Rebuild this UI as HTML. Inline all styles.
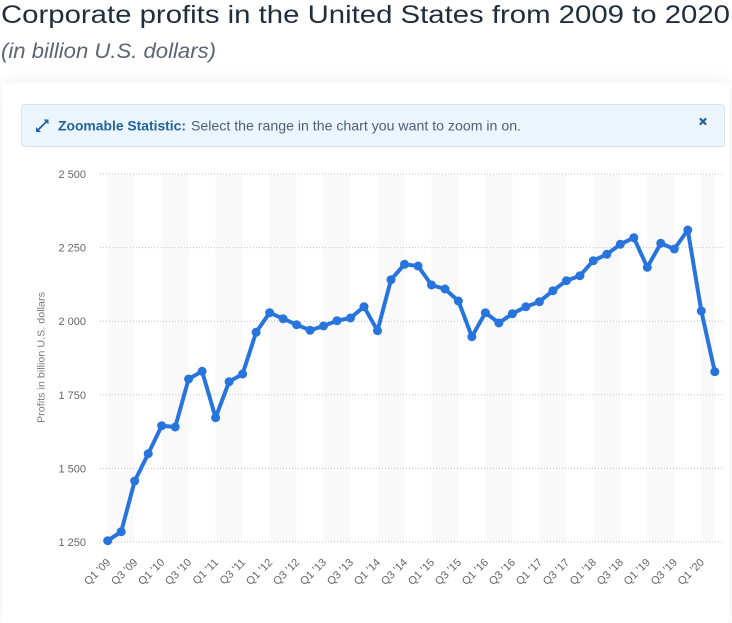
<!DOCTYPE html>
<html>
<head>
<meta charset="utf-8">
<style>
  html,body{margin:0;padding:0;background:#fff;width:732px;height:593px;overflow:hidden;}
  .card{position:absolute;left:2px;top:83px;width:727px;height:540px;background:#fff;box-shadow:0 0 18px rgba(0,0,0,0.07);border-radius:3px;}
  svg{position:absolute;left:0;top:0;}
  text{font-family:"Liberation Sans", sans-serif;}
</style>
</head>
<body>
<div class="card"></div>
<svg width="732" height="593" viewBox="0 0 732 593" xmlns="http://www.w3.org/2000/svg">
  <!-- Title -->
  <text x="1" y="23" font-size="25" fill="#1f2d3d" textLength="729" lengthAdjust="spacingAndGlyphs">Corporate profits in the United States from 2009 to 2020</text>
  <text x="1" y="58" font-size="21" font-style="italic" fill="#5a6674" textLength="215" lengthAdjust="spacingAndGlyphs">(in billion U.S. dollars)</text>

  <!-- Info box -->
  <rect x="21.5" y="104.5" width="703" height="42" rx="3" fill="#edf5fc" stroke="#d5e4f0"/>
  <g stroke="#1e64a0" stroke-width="1.8" fill="#1e64a0">
    <line x1="38.5" y1="129.5" x2="46" y2="122"/>
    <polygon points="36,132 36,127 41,132" stroke="none"/>
    <polygon points="48.5,119.5 48.5,124.5 43.5,119.5" stroke="none"/>
  </g>
  <text x="58" y="130.5" font-size="14" font-weight="bold" fill="#1e64a0" textLength="128" lengthAdjust="spacingAndGlyphs">Zoomable Statistic:</text>
  <text x="191" y="130.5" font-size="14" fill="#4d6073" textLength="330" lengthAdjust="spacingAndGlyphs">Select the range in the chart you want to zoom in on.</text>
  <g stroke="#1e64a0" stroke-width="2.2" stroke-linecap="round">
    <line x1="700.5" y1="119" x2="705.5" y2="124"/>
    <line x1="705.5" y1="119" x2="700.5" y2="124"/>
  </g>

  <!-- Bands -->
  <g fill="#f9f9f9">
    <rect x="107.7" y="174" width="27" height="368"/>
    <rect x="161.7" y="174" width="27" height="368"/>
    <rect x="215.6" y="174" width="27" height="368"/>
    <rect x="269.6" y="174" width="27" height="368"/>
    <rect x="323.5" y="174" width="27" height="368"/>
    <rect x="377.5" y="174" width="27" height="368"/>
    <rect x="431.5" y="174" width="27" height="368"/>
    <rect x="485.4" y="174" width="27" height="368"/>
    <rect x="539.4" y="174" width="27" height="368"/>
    <rect x="593.3" y="174" width="27" height="368"/>
    <rect x="647.3" y="174" width="27" height="368"/>
    <rect x="701.3" y="174" width="13" height="368"/>
  </g>

  <!-- Gridlines -->
  <g stroke="#c4c4c4" stroke-width="1" stroke-dasharray="1,2">
    <line x1="100" y1="174" x2="722" y2="174"/>
    <line x1="100" y1="247.6" x2="722" y2="247.6"/>
    <line x1="100" y1="321.2" x2="722" y2="321.2"/>
    <line x1="100" y1="394.8" x2="722" y2="394.8"/>
    <line x1="100" y1="468.4" x2="722" y2="468.4"/>
    <line x1="100" y1="542" x2="722" y2="542"/>
  </g>

  <!-- Y labels -->
  <g font-size="11" fill="#666" text-anchor="end">
    <text x="86" y="178">2 500</text>
    <text x="86" y="251.6">2 250</text>
    <text x="86" y="325.2">2 000</text>
    <text x="86" y="398.8">1 750</text>
    <text x="86" y="472.4">1 500</text>
    <text x="86" y="546">1 250</text>
  </g>
  <text transform="translate(44.5,357.5) rotate(-90)" font-size="10" fill="#777" text-anchor="middle" textLength="131" lengthAdjust="spacingAndGlyphs">Profits in billion U.S. dollars</text>

  <!-- Series -->
  <polyline fill="none" stroke="#2774dc" stroke-width="4" stroke-linejoin="round" stroke-linecap="round"
    points="107.7,540.7 121.2,531.7 134.7,481 148.2,453.7 161.7,425.7 175.2,427 188.6,379 202.1,371.3 215.6,417.7 229.1,381.7 242.6,374 256.1,332.3 269.6,312.7 283.1,318.7 296.6,324.7 310.1,330.3 323.5,326 337.0,320.7 350.5,318 364.0,306.7 377.5,330.7 391.0,279.7 404.5,264.3 418.0,266 431.5,285 445.0,289 458.4,301 471.9,336.7 485.4,312.7 498.9,323 512.4,313.7 525.9,306.7 539.4,301.7 552.9,290.7 566.4,280.7 579.9,275.7 593.3,260.7 606.8,254.3 620.3,244.3 633.8,237.7 647.3,267.3 660.8,243.3 674.3,249 687.8,230 701.3,311 714.8,371.7"/>
  <g fill="#2774dc">
    <circle cx="107.7" cy="540.7" r="4.5"/><circle cx="121.2" cy="531.7" r="4.5"/><circle cx="134.7" cy="481" r="4.5"/><circle cx="148.2" cy="453.7" r="4.5"/>
    <circle cx="161.7" cy="425.7" r="4.5"/><circle cx="175.2" cy="427" r="4.5"/><circle cx="188.6" cy="379" r="4.5"/><circle cx="202.1" cy="371.3" r="4.5"/>
    <circle cx="215.6" cy="417.7" r="4.5"/><circle cx="229.1" cy="381.7" r="4.5"/><circle cx="242.6" cy="374" r="4.5"/><circle cx="256.1" cy="332.3" r="4.5"/>
    <circle cx="269.6" cy="312.7" r="4.5"/><circle cx="283.1" cy="318.7" r="4.5"/><circle cx="296.6" cy="324.7" r="4.5"/><circle cx="310.1" cy="330.3" r="4.5"/>
    <circle cx="323.5" cy="326" r="4.5"/><circle cx="337.0" cy="320.7" r="4.5"/><circle cx="350.5" cy="318" r="4.5"/><circle cx="364.0" cy="306.7" r="4.5"/>
    <circle cx="377.5" cy="330.7" r="4.5"/><circle cx="391.0" cy="279.7" r="4.5"/><circle cx="404.5" cy="264.3" r="4.5"/><circle cx="418.0" cy="266" r="4.5"/>
    <circle cx="431.5" cy="285" r="4.5"/><circle cx="445.0" cy="289" r="4.5"/><circle cx="458.4" cy="301" r="4.5"/><circle cx="471.9" cy="336.7" r="4.5"/>
    <circle cx="485.4" cy="312.7" r="4.5"/><circle cx="498.9" cy="323" r="4.5"/><circle cx="512.4" cy="313.7" r="4.5"/><circle cx="525.9" cy="306.7" r="4.5"/>
    <circle cx="539.4" cy="301.7" r="4.5"/><circle cx="552.9" cy="290.7" r="4.5"/><circle cx="566.4" cy="280.7" r="4.5"/><circle cx="579.9" cy="275.7" r="4.5"/>
    <circle cx="593.3" cy="260.7" r="4.5"/><circle cx="606.8" cy="254.3" r="4.5"/><circle cx="620.3" cy="244.3" r="4.5"/><circle cx="633.8" cy="237.7" r="4.5"/>
    <circle cx="647.3" cy="267.3" r="4.5"/><circle cx="660.8" cy="243.3" r="4.5"/><circle cx="674.3" cy="249" r="4.5"/><circle cx="687.8" cy="230" r="4.5"/>
    <circle cx="701.3" cy="311" r="4.5"/><circle cx="714.8" cy="371.7" r="4.5"/>
  </g>

  <!-- X labels -->
  <g font-size="11" fill="#666" text-anchor="end">
    <text transform="translate(111.2,563) rotate(-45)">Q1 '09</text>
    <text transform="translate(138.2,563) rotate(-45)">Q3 '09</text>
    <text transform="translate(165.2,563) rotate(-45)">Q1 '10</text>
    <text transform="translate(192.1,563) rotate(-45)">Q3 '10</text>
    <text transform="translate(219.1,563) rotate(-45)">Q1 '11</text>
    <text transform="translate(246.1,563) rotate(-45)">Q3 '11</text>
    <text transform="translate(273.1,563) rotate(-45)">Q1 '12</text>
    <text transform="translate(300.1,563) rotate(-45)">Q3 '12</text>
    <text transform="translate(327.0,563) rotate(-45)">Q1 '13</text>
    <text transform="translate(354.0,563) rotate(-45)">Q3 '13</text>
    <text transform="translate(381.0,563) rotate(-45)">Q1 '14</text>
    <text transform="translate(408.0,563) rotate(-45)">Q3 '14</text>
    <text transform="translate(435.0,563) rotate(-45)">Q1 '15</text>
    <text transform="translate(461.9,563) rotate(-45)">Q3 '15</text>
    <text transform="translate(488.9,563) rotate(-45)">Q1 '16</text>
    <text transform="translate(515.9,563) rotate(-45)">Q3 '16</text>
    <text transform="translate(542.9,563) rotate(-45)">Q1 '17</text>
    <text transform="translate(569.9,563) rotate(-45)">Q3 '17</text>
    <text transform="translate(596.8,563) rotate(-45)">Q1 '18</text>
    <text transform="translate(623.8,563) rotate(-45)">Q3 '18</text>
    <text transform="translate(650.8,563) rotate(-45)">Q1 '19</text>
    <text transform="translate(677.8,563) rotate(-45)">Q3 '19</text>
    <text transform="translate(704.8,563) rotate(-45)">Q1 '20</text>
  </g>
</svg>
</body>
</html>
